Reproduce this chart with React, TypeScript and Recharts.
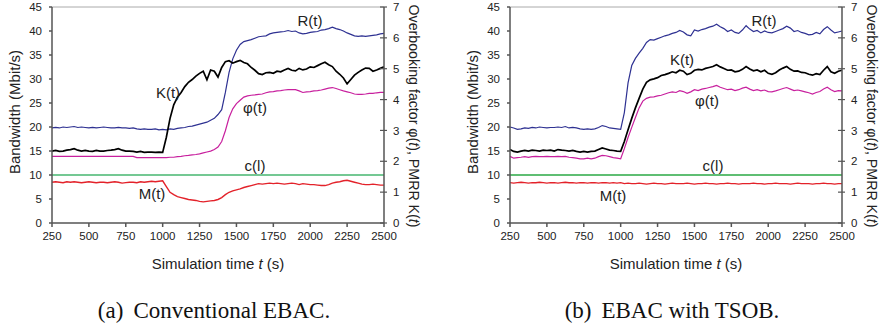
import React from 'react';
import { LineChart, Line, XAxis, YAxis, ReferenceLine } from 'recharts';

// simulation time (s), sampled every 25 s
const TIME = [
  250, 275, 300, 325, 350, 375, 400, 425, 450, 475, 500, 525, 550, 575, 600, 625, 650, 675, 700, 725,
  750, 775, 800, 825, 850, 875, 900, 925, 950, 975, 1000, 1025, 1050, 1075, 1100, 1125, 1150, 1175, 1200, 1225,
  1250, 1275, 1300, 1325, 1350, 1375, 1400, 1425, 1450, 1475, 1500, 1525, 1550, 1575, 1600, 1625, 1650, 1675, 1700, 1725,
  1750, 1775, 1800, 1825, 1850, 1875, 1900, 1925, 1950, 1975, 2000, 2025, 2050, 2075, 2100, 2125, 2150, 2175, 2200, 2225,
  2250, 2275, 2300, 2325, 2350, 2375, 2400, 2425, 2450, 2475, 2500,
];

// (a) conventional EBAC
const R_CONV = [
  19.8, 19.9, 19.8, 20.0, 19.9, 20.0, 20.1, 19.9, 20.0, 19.9, 19.8, 19.9, 19.8, 19.9, 20.0, 19.9, 19.8, 19.8, 19.9, 19.8,
  19.8, 19.7, 19.8, 19.6, 19.5, 19.6, 19.5, 19.5, 19.6, 19.4, 19.5, 19.4, 19.6, 19.5, 19.7, 19.8, 19.9, 20.1, 20.2, 20.4,
  20.6, 20.8, 21.0, 21.4, 21.8, 22.6, 23.6, 27.2, 31.4, 34.2, 36.0, 37.2, 37.8, 38.0, 38.2, 38.5, 38.8, 38.9, 39.0, 39.4,
  39.6, 39.7, 39.8, 39.9, 40.1, 39.9, 40.0, 39.6, 39.4, 39.5, 39.7, 39.8, 39.9, 40.2, 40.3, 40.5, 40.8, 40.5, 40.3, 40.0,
  39.6, 39.3, 39.0, 38.9, 39.0, 38.9, 39.0, 39.1, 39.2, 39.4, 39.5,
];
const K_CONV = [
  2.33, 2.35, 2.32, 2.33, 2.36, 2.38, 2.41, 2.36, 2.33, 2.35, 2.33, 2.32, 2.35, 2.33, 2.33, 2.35, 2.36, 2.38, 2.41, 2.36,
  2.33, 2.33, 2.32, 2.30, 2.32, 2.29, 2.30, 2.30, 2.29, 2.30, 2.29, 2.78, 3.39, 3.83, 4.08, 4.23, 4.42, 4.56, 4.65, 4.76,
  4.85, 4.92, 4.64, 4.96, 4.92, 4.73, 5.04, 5.23, 5.26, 5.18, 5.23, 5.27, 5.20, 5.16, 5.04, 4.95, 4.84, 4.81, 4.87, 4.88,
  4.85, 4.92, 4.90, 4.96, 5.01, 4.95, 4.93, 5.01, 4.96, 4.99, 5.06, 5.04, 5.10, 5.16, 5.21, 5.13, 5.07, 4.92, 4.82, 4.70,
  4.51, 4.65, 4.79, 4.88, 4.96, 5.02, 5.01, 4.92, 4.96, 5.01, 5.06,
];
const PHI_CONV = [
  2.16, 2.16, 2.16, 2.16, 2.16, 2.16, 2.16, 2.16, 2.16, 2.16, 2.16, 2.16, 2.16, 2.16, 2.16, 2.16, 2.16, 2.16, 2.16, 2.16,
  2.16, 2.16, 2.16, 2.12, 2.12, 2.12, 2.12, 2.12, 2.12, 2.12, 2.12, 2.12, 2.13, 2.13, 2.15, 2.16, 2.18, 2.19, 2.21, 2.22,
  2.24, 2.27, 2.30, 2.33, 2.38, 2.46, 2.64, 2.99, 3.42, 3.70, 3.87, 3.98, 4.08, 4.12, 4.14, 4.15, 4.17, 4.18, 4.22, 4.25,
  4.26, 4.28, 4.29, 4.31, 4.32, 4.32, 4.32, 4.28, 4.23, 4.25, 4.26, 4.28, 4.29, 4.31, 4.34, 4.37, 4.39, 4.36, 4.32, 4.28,
  4.25, 4.22, 4.18, 4.17, 4.17, 4.18, 4.20, 4.20, 4.22, 4.23, 4.23,
];
const M_CONV = [
  8.5, 8.6, 8.5, 8.4, 8.6, 8.5, 8.6, 8.5, 8.4, 8.5, 8.6, 8.5, 8.4, 8.5, 8.5, 8.4, 8.5, 8.6, 8.5, 8.3,
  8.4, 8.5, 8.5, 8.4, 8.6, 8.5, 8.6, 8.7, 8.6, 8.7, 8.8, 7.6, 6.4, 5.9, 5.5, 5.3, 5.1, 4.9, 4.8, 4.7,
  4.5, 4.4, 4.5, 4.6, 4.7, 4.9, 5.3, 5.9, 6.4, 6.7, 6.9, 7.1, 7.4, 7.6, 7.8, 8.0, 8.2, 8.1, 8.2, 8.3,
  8.2, 8.3, 8.2, 8.1, 8.2, 8.3, 8.2, 8.0, 8.2, 8.1, 8.0, 8.0, 7.9, 7.8, 7.8, 8.0, 8.3, 8.5, 8.6, 8.8,
  8.9, 8.7, 8.5, 8.3, 8.1, 8.0, 8.0, 8.1, 8.0, 7.9, 7.9,
];

// (b) EBAC with TSOB
const R_TSOB = [
  20.0, 19.8, 19.5, 19.6, 19.8, 19.7, 19.9, 19.8, 20.0, 19.9, 19.8, 19.9, 19.9, 20.0, 19.9, 20.1, 19.8, 19.9, 19.8, 19.6,
  19.5, 19.6, 19.5, 19.6, 19.9, 20.3, 20.1, 19.8, 19.7, 19.6, 19.5, 23.0, 29.2, 32.8, 34.3, 35.4, 36.4, 37.6, 38.2, 38.1,
  38.4, 38.7, 39.0, 39.2, 39.5, 39.7, 40.1, 39.8, 39.2, 39.0, 40.2, 40.0, 40.3, 40.5, 40.8, 41.0, 41.4, 40.9, 40.5, 39.9,
  40.2, 39.7, 39.5, 40.2, 41.1, 40.4, 39.9, 40.1, 39.6, 40.0, 39.7, 39.6, 39.9, 40.2, 40.5, 41.0, 40.6, 39.9, 40.1, 39.7,
  39.5, 39.2, 39.3, 39.7, 39.4, 40.3, 40.9, 40.2, 39.6, 39.8, 40.0,
];
const K_TSOB = [
  2.38, 2.32, 2.30, 2.33, 2.35, 2.33, 2.36, 2.35, 2.33, 2.36, 2.35, 2.36, 2.33, 2.38, 2.36, 2.35, 2.33, 2.35, 2.32, 2.30,
  2.32, 2.30, 2.32, 2.33, 2.38, 2.43, 2.40, 2.36, 2.35, 2.33, 2.32, 2.64, 3.02, 3.39, 3.73, 4.04, 4.34, 4.56, 4.64, 4.67,
  4.71, 4.78, 4.81, 4.85, 4.90, 4.87, 4.95, 4.92, 4.81, 4.85, 4.95, 4.98, 4.96, 5.01, 5.04, 5.07, 5.13, 5.06, 5.01, 4.95,
  4.96, 4.90, 4.92, 4.98, 5.07, 4.99, 4.93, 4.96, 4.90, 4.95, 4.85, 4.82, 4.87, 4.96, 5.02, 5.07, 4.98, 4.92, 4.93, 4.88,
  4.87, 4.82, 4.79, 4.84, 4.81, 4.95, 5.07, 4.90, 4.85, 4.92, 4.95,
];
const PHI_TSOB = [
  2.16, 2.10, 2.12, 2.13, 2.15, 2.13, 2.15, 2.16, 2.15, 2.15, 2.16, 2.15, 2.15, 2.16, 2.15, 2.16, 2.13, 2.12, 2.10, 2.08,
  2.08, 2.10, 2.08, 2.10, 2.15, 2.19, 2.18, 2.15, 2.12, 2.10, 2.08, 2.41, 2.77, 3.10, 3.42, 3.73, 3.95, 4.04, 4.08, 4.09,
  4.12, 4.14, 4.18, 4.22, 4.25, 4.23, 4.29, 4.26, 4.20, 4.25, 4.32, 4.29, 4.34, 4.36, 4.39, 4.42, 4.46, 4.40, 4.36, 4.32,
  4.34, 4.29, 4.32, 4.37, 4.40, 4.34, 4.29, 4.32, 4.28, 4.31, 4.26, 4.25, 4.28, 4.32, 4.36, 4.39, 4.34, 4.29, 4.31, 4.28,
  4.25, 4.22, 4.18, 4.23, 4.26, 4.34, 4.40, 4.32, 4.26, 4.29, 4.28,
];
const M_TSOB = [
  8.4, 8.3, 8.4, 8.5, 8.4, 8.3, 8.4, 8.4, 8.5, 8.4, 8.3, 8.4, 8.4, 8.3, 8.4, 8.5, 8.4, 8.4, 8.3, 8.4,
  8.4, 8.3, 8.4, 8.4, 8.3, 8.4, 8.4, 8.3, 8.4, 8.3, 8.4, 8.2, 8.3, 8.2, 8.2, 8.3, 8.2, 8.1, 8.2, 8.3,
  8.2, 8.2, 8.1, 8.2, 8.3, 8.2, 8.2, 8.2, 8.3, 8.2, 8.1, 8.2, 8.2, 8.3, 8.2, 8.2, 8.1, 8.2, 8.2, 8.3,
  8.2, 8.2, 8.1, 8.2, 8.2, 8.2, 8.3, 8.2, 8.2, 8.1, 8.2, 8.2, 8.3, 8.2, 8.2, 8.2, 8.1, 8.2, 8.3, 8.2,
  8.2, 8.2, 8.1, 8.2, 8.2, 8.3, 8.2, 8.2, 8.1, 8.2, 8.2,
];

const C_LINK = 10; // link capacity c(l), Mbit/s

const TIME_TICKS = [250, 500, 750, 1000, 1250, 1500, 1750, 2000, 2250, 2500];
const BW_TICKS = [0, 5, 10, 15, 20, 25, 30, 35, 40, 45];
const OB_TICKS = [0, 1, 2, 3, 4, 5, 6, 7];

const FONT = '"Liberation Sans", Arial, sans-serif';
const AXIS = '#555';

const rowsConv = TIME.map((t, i) => ({ t, R: R_CONV[i], K: K_CONV[i], phi: PHI_CONV[i], M: M_CONV[i] }));
const rowsTsob = TIME.map((t, i) => ({ t, R: R_TSOB[i], K: K_TSOB[i], phi: PHI_TSOB[i], M: M_TSOB[i] }));

// right axis ticks cross the axis line
function RightTick(props: any) {
  const { x, y, payload } = props;
  return (
    <g>
      <line x1={x - 13} x2={x - 6} y1={y} y2={y} stroke={AXIS} strokeWidth={1.2} />
      <text x={x} y={y} dy="0.355em" fontSize={11.5} fill="#222" fontFamily={FONT}>{payload.value}</text>
    </g>
  );
}

const tickStyle = { fontSize: 11.5, fill: '#222', fontFamily: FONT };

function Tag({ x, y, children, size = 15 }: { x: number; y: number; children: React.ReactNode; size?: number }) {
  return (
    <div style={{ position: 'absolute', left: x, top: y, transform: 'translate(-50%, -50%)', whiteSpace: 'nowrap', fontFamily: FONT, fontSize: size, color: '#222', lineHeight: 1 }}>
      {children}
    </div>
  );
}

type Labels = { R: [number, number]; K: [number, number]; phi: [number, number]; c: [number, number]; M: [number, number] };

function Panel({ left, rows, labels, tag, caption, cColor, cWidth }: { left: number; rows: any[]; labels: Labels; tag: string; caption: string; cColor: string; cWidth: number }) {
  return (
    <div style={{ position: 'absolute', left, top: 0, width: 440, height: 326 }}>
      <LineChart width={425} height={250} data={rows} margin={{ top: 7, right: 0, bottom: 0, left: 0 }}>
        <XAxis dataKey="t" type="number" domain={[250, 2500]} ticks={TIME_TICKS} interval={0} height={27}
          tickSize={4} tickMargin={5} stroke={AXIS} strokeWidth={1.5} tick={tickStyle} />
        <YAxis yAxisId="bw" domain={[0, 45]} ticks={BW_TICKS} interval={0} width={52}
          tickSize={3} tickMargin={7} stroke={AXIS} strokeWidth={1.5} tick={tickStyle} />
        <YAxis yAxisId="ob" orientation="right" domain={[0, 7]} ticks={OB_TICKS} interval={0} width={41}
          tickSize={4} tickMargin={5} tickLine={false} stroke={AXIS} strokeWidth={1.5} tick={<RightTick />} />
        <ReferenceLine yAxisId="bw" y={45} stroke="#aaa" strokeWidth={1} />
        <ReferenceLine yAxisId="bw" y={C_LINK} stroke={cColor} strokeWidth={cWidth} />
        <Line yAxisId="bw" dataKey="R" stroke="#2e3192" strokeWidth={1.2} dot={false} isAnimationActive={false} />
        <Line yAxisId="ob" dataKey="phi" stroke="#c8209e" strokeWidth={1.2} dot={false} isAnimationActive={false} />
        <Line yAxisId="ob" dataKey="K" stroke="#000" strokeWidth={1.7} dot={false} isAnimationActive={false} />
        <Line yAxisId="bw" dataKey="M" stroke="#e3222a" strokeWidth={1.4} dot={false} isAnimationActive={false} />
      </LineChart>

      <Tag x={labels.R[0]} y={labels.R[1]}>R(t)</Tag>
      <Tag x={labels.K[0]} y={labels.K[1]}>K(t)</Tag>
      <Tag x={labels.phi[0]} y={labels.phi[1]}>φ(t)</Tag>
      <Tag x={labels.c[0]} y={labels.c[1]}>c(l)</Tag>
      <Tag x={labels.M[0]} y={labels.M[1]}>M(t)</Tag>

      <div style={{ position: 'absolute', left: 14, top: 112, transform: 'translate(-50%, -50%) rotate(-90deg)', whiteSpace: 'nowrap', fontFamily: FONT, fontSize: 15, color: '#222', lineHeight: 1 }}>
        Bandwidth (Mbit/s)
      </div>
      <div style={{ position: 'absolute', left: 414, top: 116, transform: 'translate(-50%, -50%) rotate(90deg)', whiteSpace: 'nowrap', fontFamily: FONT, fontSize: 14.2, color: '#222', lineHeight: 1 }}>
        Overbooking factor φ(<i>t</i>), PMRR K(<i>t</i>)
      </div>
      <Tag x={218} y={263}>Simulation time <i>t</i> (s)</Tag>
      <div style={{ position: 'absolute', left: 214, top: 310, transform: 'translate(-50%, -50%)', whiteSpace: 'nowrap', fontFamily: '"Liberation Serif", "Times New Roman", serif', fontSize: 23, color: '#111', lineHeight: 1 }}>
        <span style={{ marginRight: 10 }}>{tag}</span>{caption}
      </div>
    </div>
  );
}

export default function App() {
  return (
    <div style={{ position: 'absolute', left: 0, top: 0, width: 883, height: 326, overflow: 'hidden', background: '#fff' }}>
      <Panel left={0} rows={rowsConv} tag="(a)" caption="Conventional EBAC." cColor="#74c893" cWidth={2.2}
        labels={{ R: [310, 20], K: [168, 92], phi: [255, 107], c: [255, 165], M: [152, 193] }} />
      <Panel left={458} rows={rowsTsob} tag="(b)" caption="EBAC with TSOB." cColor="#2aa845" cWidth={1.3}
        labels={{ R: [306, 20], K: [224, 59], phi: [249, 100], c: [255, 165], M: [155, 195] }} />
    </div>
  );
}
